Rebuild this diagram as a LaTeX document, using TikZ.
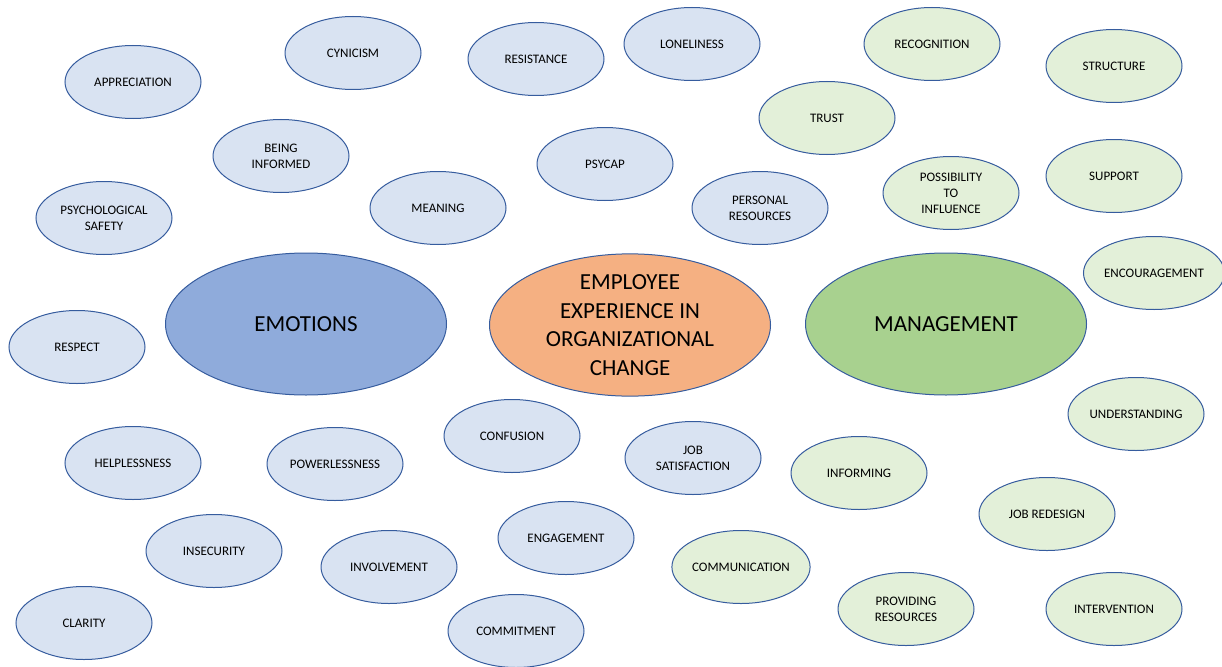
\documentclass[tikz,border=0pt]{standalone}
\usepackage{fontspec}
\setmainfont{Carlito}
\usetikzlibrary{shapes.geometric}
\definecolor{outlineblue}{rgb}{0.21, 0.36, 0.62}
\definecolor{paleblue}{rgb}{0.85, 0.89, 0.95}
\definecolor{palegreen}{rgb}{0.89, 0.94, 0.85}
\definecolor{emoblue}{rgb}{0.56, 0.67, 0.86}
\definecolor{mgmtgreen}{rgb}{0.66, 0.82, 0.56}
\definecolor{corepeach}{rgb}{0.96, 0.69, 0.51}

\begin{document}
\begin{tikzpicture}[x={(1pt,0pt)},y={(0pt,-1pt)},
    bubble/.style={ellipse,draw=outlineblue,line width=1pt,inner sep=0pt,
      minimum width=136pt,minimum height=73pt,align=center,
      font=\fontsize{13}{16}\selectfont},
    emobubble/.style={bubble,fill=paleblue},
    mgmtbubble/.style={bubble,fill=palegreen},
    core/.style={bubble,minimum width=281pt,minimum height=142pt,
      font=\fontsize{23}{28.5}\selectfont}]
    \useasboundingbox (0,0) rectangle (1222,666);
    % Core topics
    \node[core,fill=emoblue] (emotions) at (306,324) {EMOTIONS};
    \node[core,fill=corepeach] (change) at (630,325) {EMPLOYEE\\EXPERIENCE IN\\ORGANIZATIONAL\\CHANGE};
    \node[core,fill=mgmtgreen] (management) at (946,324) {MANAGEMENT};
    % Employee side
    \foreach \x/\y/\n/\t in {133/82/appreciation/APPRECIATION, 353/53/cynicism/CYNICISM,
        536/59/resistance/RESISTANCE, 692/44/loneliness/LONELINESS,
        281/156/informed/{BEING\\INFORMED}, 605/164/psycap/PSYCAP,
        438/208/meaning/MEANING, 760/208/personal/{PERSONAL\\RESOURCES},
        104/218/safety/{PSYCHOLOGICAL\\SAFETY}, 77/347/respect/RESPECT,
        133/463/helplessness/HELPLESSNESS, 335/464/powerlessness/POWERLESSNESS,
        512/436/confusion/CONFUSION, 693/458/jobsat/{JOB\\SATISFACTION},
        214/551/insecurity/INSECURITY, 566/538/engagement/ENGAGEMENT,
        389/567/involvement/INVOLVEMENT, 84/623/clarity/CLARITY,
        516/631/commitment/COMMITMENT}
      \node[emobubble] (\n) at (\x,\y) {\t};
    % Management side
    \foreach \x/\y/\n/\t in {932/44/recognition/RECOGNITION, 1114/66/structure/STRUCTURE,
        827/118/trust/TRUST, 951/193/influence/{POSSIBILITY\\TO\\INFLUENCE},
        1114/176/support/SUPPORT, 1154/273/encouragement/ENCOURAGEMENT,
        1136/414/understanding/UNDERSTANDING, 859/473/informing/INFORMING,
        1047/514/redesign/{JOB REDESIGN}, 741/567/communication/COMMUNICATION,
        906/609/providing/{PROVIDING\\RESOURCES}, 1114/609/intervention/INTERVENTION}
      \node[mgmtbubble] (\n) at (\x,\y) {\t};
\end{tikzpicture}
\end{document}
